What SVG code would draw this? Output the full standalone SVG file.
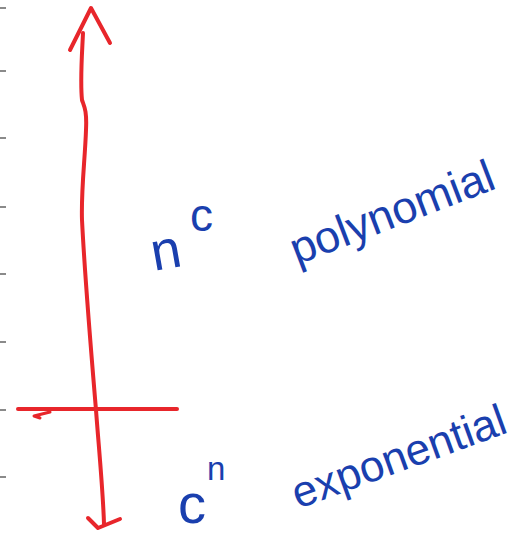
<svg xmlns="http://www.w3.org/2000/svg" width="529" height="534" viewBox="0 0 529 534">
<style>
.red{fill:none;stroke:#e8262b;stroke-width:4;stroke-linecap:round;stroke-linejoin:round}
.tick{stroke:#8a8a8a;stroke-width:2}
.hw{font-family:"Liberation Sans",Arial,sans-serif;fill:#1a3fae}
</style>
<rect width="529" height="534" fill="#fff"/>
<g id="ticks">
<line class="tick" x1="0" y1="8" x2="6" y2="8"/>
<line class="tick" x1="0" y1="71" x2="6" y2="71"/>
<line class="tick" x1="0" y1="138" x2="6" y2="138"/>
<line class="tick" x1="0" y1="207" x2="6" y2="207"/>
<line class="tick" x1="0" y1="274" x2="6" y2="274"/>
<line class="tick" x1="0" y1="342" x2="6" y2="342"/>
<line class="tick" x1="0" y1="410" x2="6" y2="410"/>
<line class="tick" x1="0" y1="477" x2="6" y2="477"/>
</g>
<g id="axis">
<path class="red" d="M83,33 C82,55 80,80 82,100 C84,106 87,110 86,130 C85,160 81,190 82,220 C85,280 91,350 96,410 C99,450 103,490 104,524"/>
<path class="red" d="M70,50 L91,8 L110,43"/>
<path class="red" d="M88,518 L98,528 L120,519"/>
<path class="red" d="M18,409 L177,409"/>
<path class="red" d="M50,412 L34,416 L40,418" style="stroke-width:3"/>
</g>
<g id="polynomial-label">
<text class="hw" x="154" y="271" font-size="54" transform="rotate(-10 154 271)">n</text>
<text class="hw" x="190" y="231" font-size="46">c</text>
<text class="hw" x="297" y="265" font-size="45" transform="rotate(-21 297 265)">polynomial</text>
</g>
<g id="exponential-label">
<text class="hw" x="178" y="523" font-size="56">c</text>
<text class="hw" x="207" y="480" font-size="33">n</text>
<text class="hw" x="298" y="509" font-size="44" transform="rotate(-20 298 509)">exponential</text>
</g>
</svg>
